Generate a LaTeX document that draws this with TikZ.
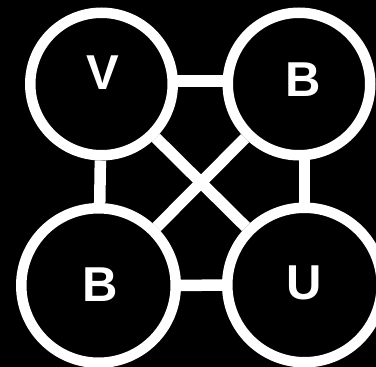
\documentclass[tikz,border=0pt]{standalone}
\usepackage{fontspec}
\setmainfont{Liberation Sans}
\pgfdeclarelayer{bg}
\pgfdeclarelayer{edges}
\pgfsetlayers{bg,edges,main}
\begin{document}
\begin{tikzpicture}[x=1pt,y=-1pt,
  vtx/.style={circle,draw=white,fill=black,line width=10.5pt,inner sep=0pt},
  topv/.style={vtx,minimum size=142.5pt},
  botv/.style={vtx,minimum size=154.5pt},
  lbl/.style={text=white,font=\fontsize{49}{49}\selectfont\bfseries,inner sep=0pt},
  edge/.style={draw=white,line width=11.5pt}]
\useasboundingbox (0,0) rectangle (376,367);
\begin{pgfonlayer}{bg}
\fill[black] (0,0) rectangle (376,367);
\end{pgfonlayer}
\node[topv] (V) at (101.5,84) {};
\node[topv] (B1) at (299,84) {};
\node[botv] (B2) at (98.5,285.5) {};
\node[botv] (U) at (304.5,285) {};
\node[lbl] (tV) at (103,73) {V};
\node[lbl] (tB1) at (303,80) {B};
\node[lbl] (tB2) at (100,285) {B};
\node[lbl] (tU) at (304,283) {U};
\begin{pgfonlayer}{edges}
\draw[edge] ([yshift=3pt]V.center) -- ([yshift=3pt]B1.center);
\draw[edge] (B2) -- (U);
\draw[edge] (V) -- (B2);
\draw[edge] (U) -- (U |- B1);
\draw[edge] (V) -- (U);
\draw[edge] (B1) -- (B2);
\end{pgfonlayer}
\end{tikzpicture}
\end{document}
